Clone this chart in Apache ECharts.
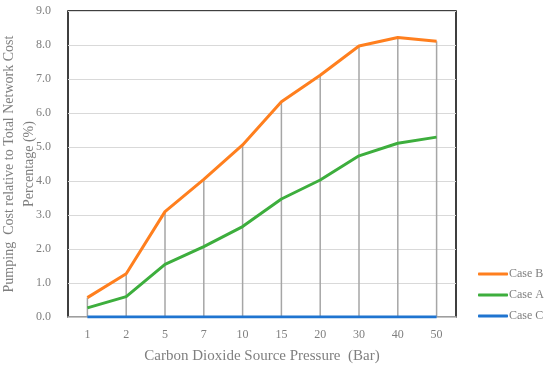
<!DOCTYPE html>
<html><head><meta charset="utf-8">
<script src="https://cdn.jsdelivr.net/npm/echarts@6/dist/echarts.min.js"></script>
<style>html,body{margin:0;padding:0;background:#fff}#c{width:550px;height:368px}</style>
</head><body><div id="c"></div>
<script>
const categories = ['1','2','5','7','10','15','20','30','40','50'];
const caseB = [0.57, 1.27, 3.10, 4.05, 5.06, 6.33, 7.11, 7.97, 8.22, 8.11];
const caseA = [0.27, 0.60, 1.55, 2.07, 2.66, 3.47, 4.03, 4.74, 5.11, 5.29];
const caseC = [0, 0, 0, 0, 0, 0, 0, 0, 0, 0];
const yTicks = [0,1,2,3,4,5,6,7,8,9];
const dropHeights = caseB.map((b,i)=>Math.max(b, caseA[i], caseC[i]));

const font = 'Liberation Serif';
const gray = '#7f7f7f';
const chart = echarts.init(document.getElementById('c'), null, {renderer:'canvas'});
chart.setOption({
  animation:false,
  textStyle:{fontFamily:font},
  grid:{left:68, right:94, top:11, bottom:51, outerBoundsMode:'none', containLabel:false,
        show:true, borderColor:'#000', borderWidth:1.5, backgroundColor:'transparent'},
  legend:{
    orient:'vertical', left:478, top:267, padding:0, itemWidth:30, itemHeight:3, itemGap:7,
    icon:'roundRect',
    data:['Case B','Case A','Case C'],
    textStyle:{fontFamily:font, fontSize:12, color:gray, padding:[0,0,0,-4], height:14, lineHeight:14}
  },
  xAxis:{
    type:'category', data:categories, boundaryGap:true,
    name:'Carbon Dioxide Source Pressure  (Bar)', nameLocation:'middle', nameGap:32, nameMoveOverlap:false,
    nameTextStyle:{fontFamily:font, fontSize:15, color:gray},
    axisLine:{show:true, lineStyle:{color:'#bfbfbf', width:1.5}},
    axisTick:{show:false},
    axisLabel:{fontFamily:font, fontSize:12, color:gray, margin:12},
    splitLine:{show:false}
  },
  yAxis:{
    type:'value', min:0, max:9, interval:1,
    name:'Pumping  Cost relative to Total Network Cost\nPercentage (%)', nameLocation:'middle', nameGap:29, nameMoveOverlap:false,
    nameTextStyle:{fontFamily:font, fontSize:14, color:gray, lineHeight:20},
    axisLine:{show:false}, axisTick:{show:false},
    axisLabel:{fontFamily:font, fontSize:12, color:gray, margin:17, formatter:v=>yTicks.includes(v)?v.toFixed(1):''},
    splitLine:{lineStyle:{color:'#d9d9d9', width:1}}
  },
  series:[
    {name:'drop', type:'bar', data:dropHeights, barWidth:1.5, silent:true, z:1,
     itemStyle:{color:'#a6a6a6'}, legendHoverLink:false},
    {name:'Case B', type:'line', data:caseB, symbol:'none', z:3, lineStyle:{color:'#ff7f1e', width:3}, itemStyle:{color:'#ff7f1e'}},
    {name:'Case A', type:'line', data:caseA, symbol:'none', z:3, lineStyle:{color:'#3dae3d', width:3}, itemStyle:{color:'#3dae3d'}},
    {name:'Case C', type:'line', data:caseC, symbol:'none', z:4, lineStyle:{color:'#1f74d0', width:3}, itemStyle:{color:'#1f74d0'}}
  ]
});
</script></body></html>
